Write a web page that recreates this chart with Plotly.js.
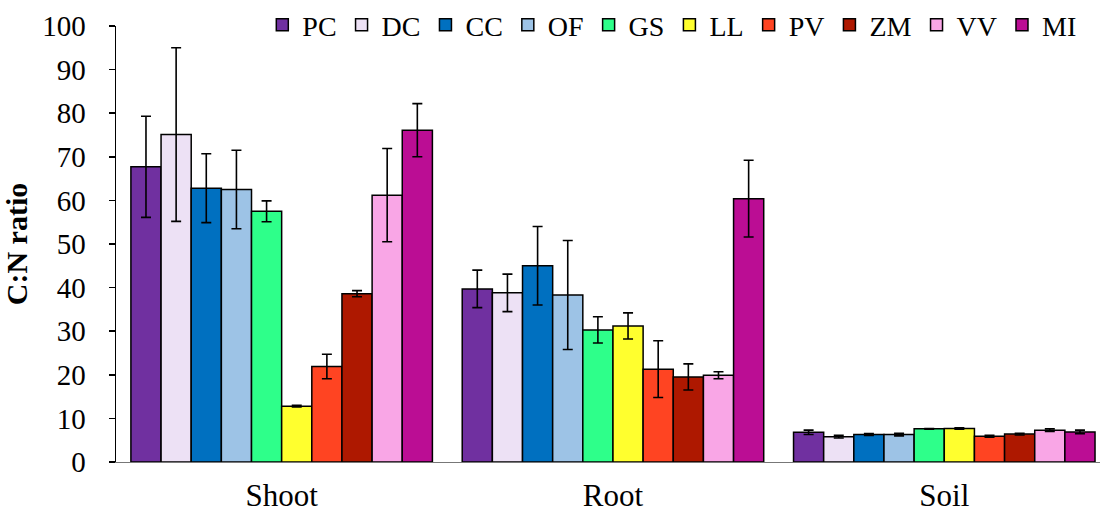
<!DOCTYPE html>
<html>
<head>
<meta charset="utf-8">
<script src="https://cdn.plot.ly/plotly-3.0.1.min.js"></script>
<style>html,body{margin:0;padding:0;background:#fff;}#chart{width:1105px;height:518px;}</style>
</head>
<body>
<div id="chart"></div>
<script>
const categories = ["Shoot", "Root", "Soil"];
const seriesNames = ["PC", "DC", "CC", "OF", "GS", "LL", "PV", "ZM", "VV", "MI"];
const colors = ["#7030A0", "#EDE1F5", "#0070C0", "#9DC3E6", "#2EFF8A", "#FFFF2E", "#FF4422", "#AE1800", "#F9A6E6", "#BB0D94"];
const PC = [67.7, 39.7, 6.8];
const DC = [75.1, 38.8, 5.8];
const CC = [62.8, 45.0, 6.3];
const OF = [62.5, 38.3, 6.3];
const GS = [57.5, 30.3, 7.6];
const LL = [12.8, 31.2, 7.7];
const PV = [21.9, 21.3, 5.9];
const ZM = [38.6, 19.5, 6.4];
const VV = [61.2, 19.9, 7.3];
const MI = [76.1, 60.4, 6.9];
const PC_err = [11.6, 4.3, 0.5];
const DC_err = [19.9, 4.3, 0.3];
const CC_err = [7.9, 9.0, 0.2];
const OF_err = [9.0, 12.5, 0.3];
const GS_err = [2.4, 3.0, 0.1];
const LL_err = [0.2, 3.0, 0.15];
const PV_err = [2.8, 6.5, 0.2];
const ZM_err = [0.7, 3.0, 0.2];
const VV_err = [10.7, 0.8, 0.3];
const MI_err = [6.1, 8.8, 0.4];
const values = [PC, DC, CC, OF, GS, LL, PV, ZM, VV, MI];
const errors = [PC_err, DC_err, CC_err, OF_err, GS_err, LL_err, PV_err, ZM_err, VV_err, MI_err];

const font = "Liberation Serif";
const traces = seriesNames.map((n, i) => ({
  type: "bar",
  name: n,
  x: categories,
  y: values[i],
  marker: {color: colors[i], line: {color: "#000", width: 1.5}},
  error_y: {type: "data", array: errors[i], visible: true, color: "#000", thickness: 1.6, width: 5}
}));

const layout = {
  width: 1105, height: 518,
  margin: {l: 116, r: 5, t: 0, b: 56},
  paper_bgcolor: "#fff", plot_bgcolor: "#fff",
  barmode: "group", bargap: 0.09, bargroupgap: 0,
  font: {family: font, size: 28, color: "#000"},
  xaxis: {
    range: [-0.5, 2.47], showline: true, linecolor: "#777", linewidth: 1.2,
    ticks: "", showgrid: false, zeroline: false, ticklabelstandoff: 6,
    tickfont: {family: font, size: 31, color: "#000"}
  },
  yaxis: {
    domain: [0, 0.9437],
    range: [0, 100], dtick: 10, showline: true, linecolor: "#000", linewidth: 1.5,
    ticks: "outside", ticklen: 6, tickwidth: 1.5, tickcolor: "#000", showgrid: false, zeroline: false,
    ticklabelstandoff: 17,
    tickfont: {family: font, size: 29, color: "#000"},
    title: {text: "<b>C:N ratio</b>", font: {family: font, size: 30, color: "#000"}, standoff: 10}
  },
  legend: {
    orientation: "h",
    x: 0.981, xanchor: "right", y: 1.0, yanchor: "top",
    font: {family: font, size: 28, color: "#000"}, bgcolor: "rgba(0,0,0,0)",
    itemwidth: 30, tracegroupgap: 0
  },
  showlegend: true
};

Plotly.newPlot("chart", traces, layout, {displayModeBar: false, staticPlot: true});
</script>
</body>
</html>
